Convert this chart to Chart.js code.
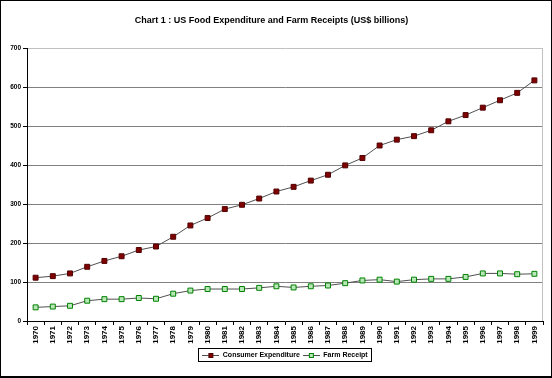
<!DOCTYPE html>
<html><head><meta charset="utf-8">
<script src="https://cdn.jsdelivr.net/npm/chart.js@4"></script>
<style>html,body{margin:0;padding:0;background:#fff}#wrap{width:552px;height:378px;position:relative}</style>
</head><body><div id="wrap"><canvas id="c" width="552" height="378"></canvas></div>
<script>
const years = ['1970','1971','1972','1973','1974','1975','1976','1977','1978','1979','1980','1981','1982','1983','1984','1985','1986','1987','1988','1989','1990','1991','1992','1993','1994','1995','1996','1997','1998','1999'];
const consumerExpenditure = [111,115,122,139,154,166,182,191,216,245,264,287,298,314,332,344,360,375,399,418,450,465,474,489,512,528,547,566,585,617];
const farmReceipt = [35,37,39,52,56,56,59,57,70,78,82,82,82,85,89,86,89,91,97,104,106,101,106,108,108,113,122,122,120,121];
const yTicks = [0,100,200,300,400,500,600,700];
const titleText = 'Chart 1 : US Food Expenditure and Farm Receipts (US$ billions)';
const seriesNames = ['Consumer Expenditure','Farm Receipt'];

const FONT = "'Liberation Sans', Arial, sans-serif";

function legendIcon(fill, stroke) {
  const c = document.createElement('canvas');
  c.width = 17; c.height = 7;
  const x = c.getContext('2d');
  x.strokeStyle = '#505050'; x.lineWidth = 1;
  x.beginPath(); x.moveTo(0, 3.5); x.lineTo(17, 3.5); x.stroke();
  x.fillStyle = fill; x.fillRect(6, 1, 5, 5);
  x.strokeStyle = stroke; x.strokeRect(6.5, 1.5, 4, 4);
  return c;
}
const icons = [legendIcon('#800000', '#500000'), legendIcon('#b8e8b8', '#008000')];

const framePlugin = {
  id: 'frame',
  beforeDatasetsDraw(chart) {
    const {ctx, chartArea: a} = chart;
    ctx.save();
    ctx.fillStyle = '#c0c0c0';
    ctx.fillRect(Math.round(a.right) - 1, a.top, 1, a.bottom - a.top);
    ctx.restore();
  },
  afterDraw(chart) {
    const ctx = chart.ctx;
    ctx.save();
    const hb = chart.legend.legendHitBoxes;
    if (hb && hb.length) {
      const l = Math.round(hb[0].left) - 3.5;
      const r = Math.round(hb[hb.length - 1].left + hb[hb.length - 1].width) + 3.5;
      const t = Math.round(hb[0].top) - 3.5;
      const b = Math.round(hb[0].top + hb[0].height) + 2.5;
      ctx.strokeStyle = '#000'; ctx.lineWidth = 1;
      ctx.strokeRect(l, t, r - l, b - t);
    }
    ctx.fillStyle = '#000';
    ctx.fillRect(0, 0, 552, 1);
    ctx.fillRect(0, 0, 1, 378);
    ctx.fillRect(551, 0, 1, 378);
    ctx.fillRect(0, 376, 552, 2);
    ctx.restore();
  }
};

new Chart(document.getElementById('c'), {
  type: 'line',
  data: {
    labels: years,
    datasets: [
      {label: seriesNames[0], data: consumerExpenditure, borderColor: '#505050', borderWidth: 1,
       pointStyle: 'rect', pointRadius: 3.5, pointBackgroundColor: '#800000', pointBorderColor: '#500000', pointBorderWidth: 1, tension: 0},
      {label: seriesNames[1], data: farmReceipt, borderColor: '#505050', borderWidth: 1,
       pointStyle: 'rect', pointRadius: 3.5, pointBackgroundColor: '#b8e8b8', pointBorderColor: '#008000', pointBorderWidth: 1, tension: 0}
    ]
  },
  options: {
    responsive: false, animation: false, devicePixelRatio: 1,
    layout: {padding: {left: 0, right: 9, top: 0, bottom: 9}},
    plugins: {
      title: {display: true, text: titleText, color: '#000',
        font: {family: FONT, size: 9, weight: 'bold', lineHeight: 1}, padding: {top: 16, bottom: 23}},
      legend: {display: true, position: 'bottom', fullSize: false,
        labels: {usePointStyle: true, pointStyleWidth: 17, padding: 3, color: '#000',
          font: {family: FONT, size: 7, weight: 'bold'},
          generateLabels(chart) {
            const items = Chart.defaults.plugins.legend.labels.generateLabels(chart);
            items.forEach((it, i) => { it.pointStyle = icons[i]; });
            return items;
          }}},
      tooltip: {enabled: false}
    },
    scales: {
      x: {
        offset: true,
        grid: {display: true, drawOnChartArea: false, offset: true, tickLength: 4, tickColor: '#000'},
        border: {color: '#000', width: 1},
        ticks: {autoSkip: false, minRotation: 90, maxRotation: 90, padding: 1, color: '#000',
          font: {family: FONT, size: 8, weight: 'bold'}},
        afterFit(s) { s.height = 28; }
      },
      y: {
        min: 0, max: 700,
        afterBuildTicks(s) { s.ticks = yTicks.map(v => ({value: v})); },
        grid: {color: c => (c.tick && c.tick.value === 700) ? '#c0c0c0' : '#808080', tickLength: 4, tickColor: '#000'},
        border: {color: '#000', width: 1},
        ticks: {padding: 2, color: '#000', font: {family: FONT, size: 6.5, weight: 'bold'}},
        afterFit(s) { s.width = 27; }
      }
    }
  },
  plugins: [framePlugin]
});
</script>
</body></html>
